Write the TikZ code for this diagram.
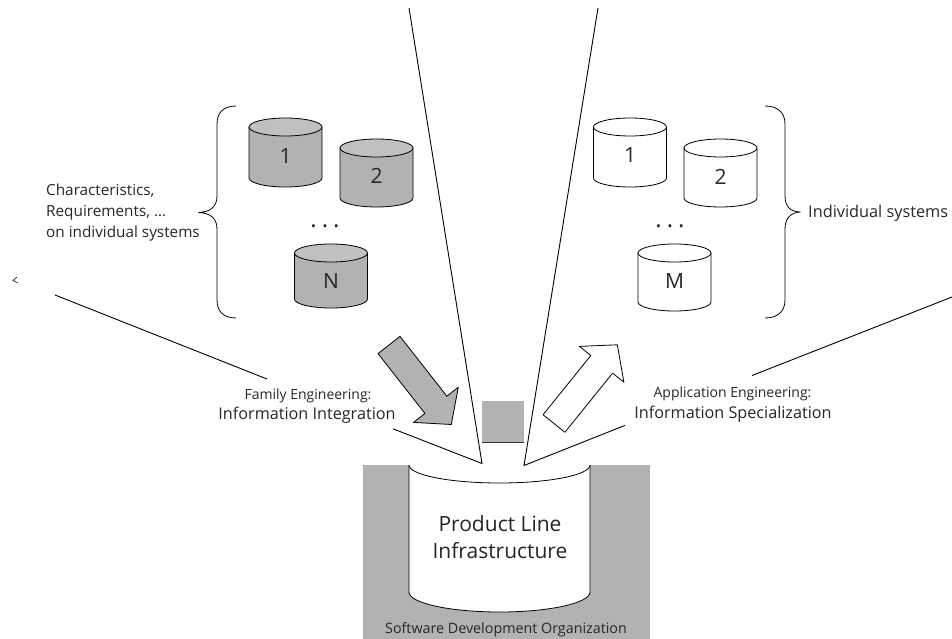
\documentclass[tikz,border=0pt]{standalone}
\usepackage{fontspec}
\setmainfont{Open Sans}
\definecolor{drumgray}{RGB}{178,178,178}
\definecolor{drumtop}{RGB}{192,192,192}
\definecolor{orggray}{RGB}{178,178,178}
\tikzset{
  outline/.style={draw=black, line width=0.8pt, line join=round},
  funnel/.style={draw=black, line width=0.9pt},
  txt/.style={inner sep=0pt, anchor=base, text=black!85},
  numlabel/.style={txt, font=\fontsize{21}{24}\selectfont},
  smalltxt/.style={txt, font=\fontsize{14}{16}\selectfont},
  midtxt/.style={txt, font=\fontsize{16.2}{19}\selectfont},
  sidetxt/.style={txt, anchor=base west, font=\fontsize{15.3}{18}\selectfont},
  dotstxt/.style={txt, font=\fontsize{24}{26}\selectfont},
}
% a small storage drum: centre x, top y, bottom y, body colour, lid colour
\newcommand\storagedrum[5]{%
  \path[outline, fill=#4] (#1-36.5,#2) -- (#1-36.5,#3)
    arc[start angle=180, end angle=0, x radius=36.5, y radius=9]
    -- (#1+36.5,#2) -- cycle;
  \path[outline, fill=#5] (#1,#2) ellipse[x radius=36.5, y radius=9];
}
\begin{document}
\begin{tikzpicture}[x=1pt, y=-1pt]
\useasboundingbox (0,0) rectangle (952,639);

% organisation block and the product line drum
\fill[orggray] (363,465) rectangle (650,639);
\fill[white] (409,465) -- (409,592)
  arc[start angle=180, end angle=0, x radius=90.5, y radius=20]
  -- (590,465) -- cycle;
\draw[outline] (409,465) -- (409,592)
  arc[start angle=180, end angle=0, x radius=90.5, y radius=20]
  -- (590,465);
\draw[outline] (409,465) arc[start angle=180, end angle=0, x radius=90.5, y radius=18];
\node[txt, font=\fontsize{21}{25}\selectfont] (plA) at (500,531.7) {Product Line};
\node[txt, font=\fontsize{21}{25}\selectfont] (plB) at (500,558) {Infrastructure};
\node[txt, font=\fontsize{14.3}{17}\selectfont] (sdo) at (506,633.3) {Software Development Organization};

% small grey block between the funnels
\fill[drumgray] (482,401) rectangle (524,442);
\draw[line width=1pt, black!80] (482,442) -- (524,442);

% funnels
\coordinate (vl) at (482,463.5);
\coordinate (vr) at (524,465.5);
\coordinate (tl) at (409,8);
\coordinate (tr) at (598,8);
\coordinate (el) at (55,295);
\coordinate (er) at (952,297);
\coordinate (gl1) at (267,379);
\coordinate (gl2) at (393,428.8);
\coordinate (gr1) at (625,425.4);
\coordinate (gr2) at (752,375.5);
\draw[funnel] (tl) -- (vl) -- (gl2);
\draw[funnel] (gl1) -- (el);
\draw[funnel] (tr) -- (vr) -- (gr1);
\draw[funnel] (gr2) -- (er);
\draw[line width=0.6pt] (17,277) -- (13,280.5) -- (18,283);

% left group of systems
\storagedrum{285.5}{127}{178}{drumgray}{drumtop}
\storagedrum{376.5}{148}{198}{drumgray}{drumtop}
\storagedrum{331}{253}{299}{drumgray}{drumtop}
\node[numlabel] (l1) at (285.5,163.3) {1};
\node[numlabel] (l2) at (376.5,183.3) {2};
\node[numlabel] (lN) at (331,288.3) {N};
\node[dotstxt] (ldots) at (325,227) {.\hspace{5pt}.\hspace{5pt}.};

% right group of systems
\storagedrum{630}{127}{178}{white}{white}
\storagedrum{720.5}{148}{198}{white}{white}
\storagedrum{674.5}{253}{302}{white}{white}
\node[numlabel] (r1) at (630,163) {1};
\node[numlabel] (r2) at (720.5,184) {2};
\node[numlabel] (rM) at (674.5,288.3) {M};
\node[dotstxt] (rdots) at (670,227) {.\hspace{5pt}.\hspace{5pt}.};

% braces
\draw[line width=0.8pt] (236,106) .. controls (224,106) and (217,112) .. (217,124)
  -- (217,196) .. controls (217,207) and (210,212) .. (198.5,212.5)
  .. controls (210,213) and (217,218) .. (217,229)
  -- (217,300) .. controls (217,312) and (224,318) .. (236,318);
\draw[line width=0.8pt] (765,106) .. controls (777,106) and (785,112) .. (785,124)
  -- (785,196) .. controls (785,207) and (791,212) .. (800.5,212)
  .. controls (791,212.5) and (785,218) .. (785,229)
  -- (785,300) .. controls (785,312) and (777,318) .. (765,318);

% side descriptions
\node[sidetxt] (c1) at (46,195) {Characteristics,};
\node[sidetxt] (c2) at (46,216.7) {Requirements, \dots};
\node[sidetxt] (c3) at (46,237.7) {on individual systems};
\node[txt, anchor=base west, font=\fontsize{16.3}{19}\selectfont] (ind) at (808,217.3) {Individual systems};

% process arrows
\draw[outline, fill=drumgray] (378,353.6) -- (400,336.4) -- (446.9,396.2) -- (458.3,387.2)
  -- (451.3,424.5) -- (413.5,422.4) -- (424.9,413.4) -- cycle;
\draw[outline, fill=white] (564.9,432.3) -- (543.1,414.7) -- (590.8,355.5) -- (579.5,346.4)
  -- (617.3,344.8) -- (623.9,382.2) -- (612.6,373.1) -- cycle;

% process labels
\node[smalltxt] (fe) at (308,399.3) {Family Engineering:};
\node[midtxt] (ii) at (307,419.3) {Information Integration};
\node[smalltxt] (ae) at (732.5,397.3) {Application Engineering:};
\node[midtxt] (is) at (733,418.3) {Information Specialization};
\end{tikzpicture}
\end{document}
